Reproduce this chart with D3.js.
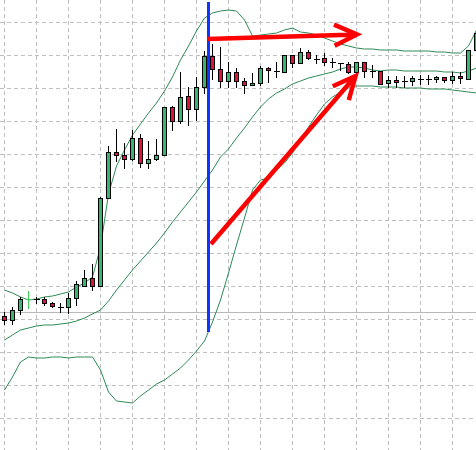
<!DOCTYPE html>
<html><head><meta charset="utf-8">
<script src="https://cdn.jsdelivr.net/npm/d3@7"></script>
<style>html,body{margin:0;padding:0;background:#fff;overflow:hidden}</style>
</head><body><div id="chart"></div>
<script>
// price units: arbitrary points
const openP  = [684,680,690,701,701,701,697,693,693,702,714,722,714,802,848,845,841,862,837,841,845,893,879,904,891,913,944,931,919,928,919,915,917,932,929,928,945,937,948,941,942,938,937,936,928,938,929,929,917,920,919,919,921,921,921,923,920,924,921,950];
const highP  = [688,693,703,709,703,703,698,697,707,719,730,736,803,854,871,857,870,866,859,861,893,894,928,913,923,949,956,953,938,932,922,927,934,933,938,945,945,952,950,945,947,942,937,938,938,938,935,929,924,924,924,924,925,925,924,923,928,928,950,967];
const lowP   = [676,676,686,692,697,695,693,688,687,695,714,710,714,802,839,832,840,833,832,840,845,870,877,875,880,907,921,913,913,913,907,915,915,918,923,928,933,937,941,937,935,933,930,927,928,923,923,916,913,913,913,915,916,916,918,918,917,917,921,950];
const closeP = [680,690,701,701,701,697,694,693,702,716,722,714,802,848,845,841,862,837,841,845,893,879,903,891,913,944,931,919,928,919,915,917,932,930,929,945,937,948,942,941,938,938,937,928,938,929,929,916,920,918,919,922,921,921,923,920,924,922,950,967];
const upperBand  = [710,707,703,700,701,703,704,706,708,713,717,723,753,806,834,850,865,876,887,897,909,923,940,954,969,982,987,989,990,989,980,964,965,966,967,970,972,968,967,965,962,959,956,954,952,951,951,950,950,950,949,949,949,949,948,948,947,947,954,970];
const middleBand = [660,665,670,672,674,675,675,676,677,679,682,686,690,699,710,720,730,739,748,757,767,778,788,798,808,819,830,843,851,862,872,883,893,901,907,911,916,919,922,924,926,928,931,933,933,932,930,929,930,930,929,929,929,929,929,928,928,927,929,932];
const lowerBand  = [610,623,638,643,642,642,643,643,642,643,643,643,630,608,599,598,597,604,610,616,620,626,632,640,649,659,678,700,727,755,782,810,820,822,830,837,847,860,873,885,896,903,908,912,914,914,914,913,913,913,912,912,912,911,911,911,910,909,908,907];
const gridPrices = [978,945,912,879,846,813,780,747,714,681,648,615,582];
const gridEvery = 4;
const priceLine = 688;
const markerLine = {index: 25.5, from: 998, to: 668};
const arrows = [
  {x1: 25.31, y1: 961, x2: 44.06, y2: 965.5},
  {x1: 25.81, y1: 756, x2: 43.88, y2: 924}
];
const highlightIndex = 3;

const W = 476, H = 450;
const svg = d3.select('#chart').append('svg')
  .attr('width', W).attr('height', H).style('display', 'block');
svg.append('rect').attr('width', W).attr('height', H).attr('fill', '#fff');

const n = openP.length;
const x = d3.scaleLinear().domain([0, n - 1]).range([4.5, 4.5 + 8 * (n - 1)]);
const y = d3.scaleLinear().domain([550, 1000]).range([450, 0]);

// grid
const g = svg.append('g').attr('stroke', '#c0c0c0').attr('stroke-width', 1)
  .attr('stroke-dasharray', '4,3').attr('shape-rendering', 'crispEdges');
const vIdx = d3.range(0, n, gridEvery);
g.selectAll('line.v').data(vIdx).join('line').attr('class', 'v')
  .attr('x1', d => x(d)).attr('x2', d => x(d)).attr('y1', 0).attr('y2', H);
g.selectAll('line.h').data(gridPrices).join('line').attr('class', 'h')
  .attr('x1', 0).attr('x2', W)
  .attr('y1', d => Math.round(y(d)) + 0.5).attr('y2', d => Math.round(y(d)) + 0.5);

// price line
svg.append('line').attr('x1', 0).attr('x2', W)
  .attr('y1', Math.round(y(priceLine)) + 0.5).attr('y2', Math.round(y(priceLine)) + 0.5)
  .attr('stroke', '#b8b8b8').attr('stroke-width', 1);

// bands
const lineGen = d3.line().x((d, i) => x(i)).y(d => y(d));
[upperBand, middleBand, lowerBand].forEach(b => {
  svg.append('path').attr('d', lineGen(b)).attr('fill', 'none')
    .attr('stroke', '#2e8b57').attr('stroke-width', 1);
});

// candles
const idx = d3.range(n);
const cg = svg.append('g').attr('shape-rendering', 'crispEdges');
idx.forEach(i => {
  const xc = x(i);
  const col = i === highlightIndex ? '#3dcc5a' : '#000';
  cg.append('line').attr('x1', xc).attr('x2', xc)
    .attr('y1', Math.round(y(highP[i]))).attr('y2', Math.round(y(lowP[i])) + 1)
    .attr('stroke', col);
  const o = openP[i], c = closeP[i];
  if (o === c) {
    const yy = Math.round(y(o)) + 0.5;
    cg.append('line').attr('x1', xc - 3).attr('x2', xc + 3)
      .attr('y1', yy).attr('y2', yy).attr('stroke', col);
  } else {
    const top = Math.round(y(Math.max(o, c)));
    const bot = Math.round(y(Math.min(o, c)));
    cg.append('rect').attr('x', xc - 2).attr('width', 4)
      .attr('y', top + 0.5).attr('height', bot - top)
      .attr('fill', c > o ? '#3cb371' : '#dc143c')
      .attr('stroke', '#000').attr('stroke-width', 1);
  }
});

// blue vertical marker
svg.append('line').attr('x1', x(markerLine.index)).attr('x2', x(markerLine.index))
  .attr('y1', y(markerLine.from)).attr('y2', y(markerLine.to))
  .attr('stroke', '#1034ff').attr('stroke-width', 3);

// red arrows
const wing = 25, spread = 25 * Math.PI / 180;
arrows.forEach(a => {
  const sx = x(a.x1), sy = y(a.y1), tx = x(a.x2), ty = y(a.y2);
  const ang = Math.atan2(ty - sy, tx - sx);
  const w1x = tx - wing * Math.cos(ang - spread), w1y = ty - wing * Math.sin(ang - spread);
  const w2x = tx - wing * Math.cos(ang + spread), w2y = ty - wing * Math.sin(ang + spread);
  const p = d3.path();
  p.moveTo(sx, sy); p.lineTo(tx, ty);
  p.moveTo(w1x, w1y); p.lineTo(tx, ty); p.lineTo(w2x, w2y);
  svg.append('path').attr('d', p.toString()).attr('fill', 'none')
    .attr('stroke', '#ff0000').attr('stroke-width', 4.5)
    .attr('stroke-linejoin', 'miter').attr('stroke-linecap', 'butt');
});
</script></body></html>
